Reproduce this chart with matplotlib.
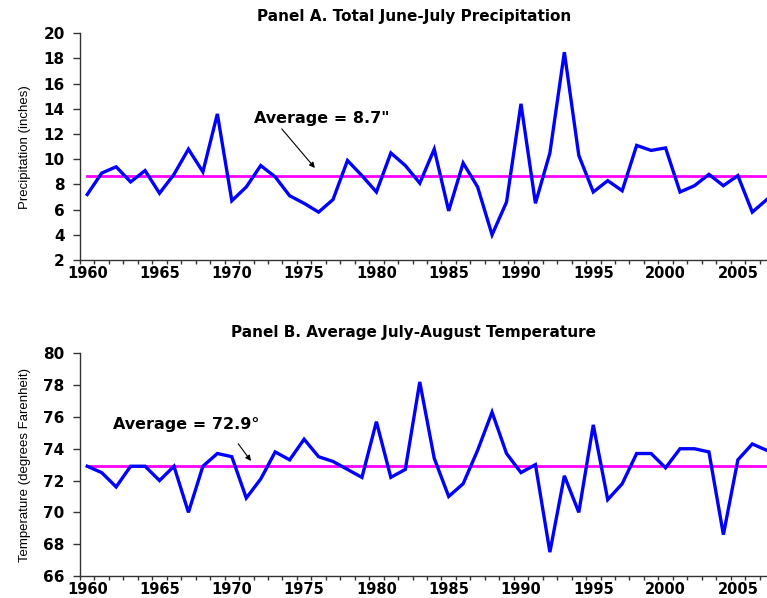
import matplotlib
matplotlib.use("Agg")
import matplotlib.pyplot as plt
import numpy as np

years = list(range(1960, 2008))
precip = [7.2, 8.9, 9.4, 8.2, 9.1, 7.3, 8.8, 10.8, 9.0, 13.6,
          6.7, 7.8, 9.5, 8.6, 7.1, 6.5, 5.8, 6.8, 9.9, 8.7,
          7.4, 10.5, 9.5, 8.1, 10.8, 5.9, 9.7, 7.8, 4.0, 6.6,
          14.4, 6.5, 10.5, 18.5, 10.3, 7.4, 8.3, 7.5, 11.1, 10.7,
          10.9, 7.4, 7.9, 8.8, 7.9, 8.7, 5.8, 6.8]
temp = [72.9, 72.5, 71.6, 72.9, 72.9, 72.0, 72.9, 70.0, 72.9, 73.7,
        73.5, 70.9, 72.1, 73.8, 73.3, 74.6, 73.5, 73.2, 72.7, 72.2,
        75.7, 72.2, 72.7, 78.2, 73.4, 71.0, 71.8, 73.9, 76.3, 73.7,
        72.5, 73.0, 67.5, 72.3, 70.0, 75.5, 70.8, 71.8, 73.7, 73.7,
        72.8, 74.0, 74.0, 73.8, 68.6, 73.3, 74.3, 73.9]
precip_avg = 8.7
temp_avg = 72.9
label_years = [1960, 1965, 1970, 1975, 1980, 1985, 1990, 1995, 2000, 2005]
titles = ["Panel A. Total June-July Precipitation",
          "Panel B. Average July-August Temperature"]
ylabels = ["Precipitation (inches)", "Temperature (degrees Farenheit)"]
notes = ['Average = 8.7"', "Average = 72.9\u00b0"]

W, H = 767, 598
fig = plt.figure(figsize=(W / 100, H / 100), dpi=100)

bold = dict(family="DejaVu Sans", weight="bold")

def make_axes(top_px, bot_px):
    left = 80 / W
    width = 694 / W
    return fig.add_axes([left, 1 - bot_px / H, width, (bot_px - top_px) / H])

axA = make_axes(33.3, 260)
axB = make_axes(353.3, 576)

configs = [
    (axA, precip, precip_avg, (2, 20), np.arange(2, 21, 2),
     (1976.2, 13.2), (1973.33, 12.58), (1975.87, 9.14), 17),
    (axB, temp, temp_avg, (66, 80), np.arange(66, 81, 2),
     (1966.83, 75.5), (1970.33, 74.45), (1971.44, 73.09), 333),
]

for i, (ax, vals, avg, ylim, yt, txy, a0, a1, ty) in enumerate(configs):
    ax.plot(years, [avg] * len(years), color="#FF00FF", lw=2.0, zorder=2)
    ax.plot(years, vals, color="#0000FF", lw=2.4, zorder=3,
            solid_joinstyle="miter")
    ax.set_xlim(1959.5, 2007.5)
    ax.set_ylim(*ylim)
    ax.set_yticks(yt)
    ax.set_yticklabels([str(v) for v in yt], fontsize=11, **bold)
    ax.set_xticks(np.arange(1959.5, 2008, 1.0))
    ax.set_xticklabels([])
    ax.set_xticks(label_years, minor=True)
    ax.set_xticklabels([str(y) for y in label_years], minor=True,
                       fontsize=10.5, **bold)
    ax.tick_params(axis="x", which="major", length=3, width=1, color="#333333",
                   direction="out")
    ax.tick_params(axis="x", which="minor", length=0, pad=4)
    ax.tick_params(axis="y", length=5, width=1, color="#333333",
                   direction="out", pad=6)
    for s in ("top", "right"):
        ax.spines[s].set_visible(False)
    for s in ("left", "bottom"):
        ax.spines[s].set_color("#333333")
        ax.spines[s].set_linewidth(1)
    ax.set_ylabel(ylabels[i], fontsize=9.5, family="Liberation Sans",
                  labelpad=9)
    ax.annotate("", xy=a1, xytext=a0,
                arrowprops=dict(arrowstyle="-|>", color="black", lw=0.8,
                                mutation_scale=8))
    ax.text(txy[0], txy[1], notes[i], ha="center", va="center",
            fontsize=11.5, **bold)
    fig.text(414 / W, 1 - ty / H, titles[i], ha="center", va="center",
             fontsize=11, **bold)

fig.savefig("out.png", dpi=100)
